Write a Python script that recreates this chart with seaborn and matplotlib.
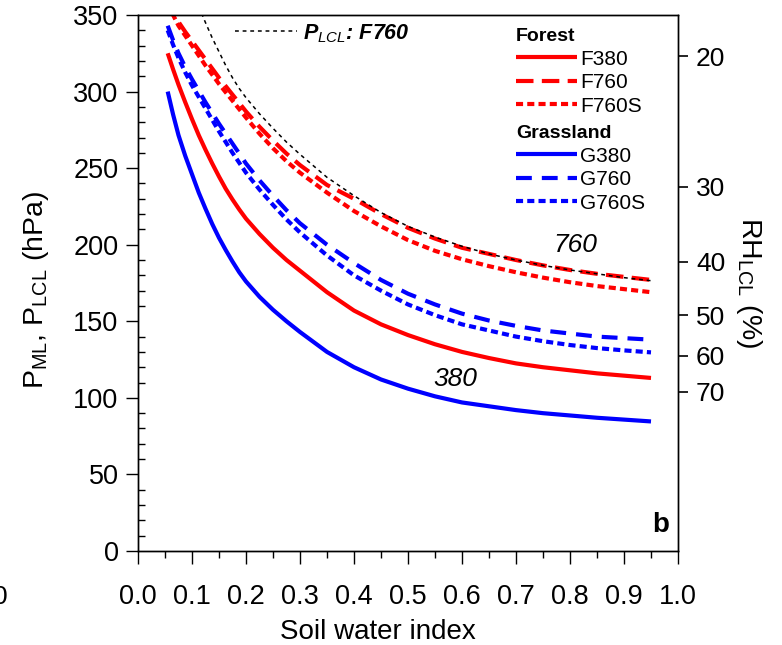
import numpy as np
import pandas as pd
import matplotlib
matplotlib.use("Agg")
import matplotlib.pyplot as plt
from matplotlib.ticker import MultipleLocator, FixedLocator, FixedFormatter
import seaborn as sns

# ---------------- data ----------------
swi = [0.055, 0.065, 0.075, 0.0875, 0.10, 0.1125, 0.125, 0.1375, 0.15, 0.1625,
       0.175, 0.1875, 0.20, 0.225, 0.25, 0.275, 0.30, 0.35, 0.40, 0.45,
       0.50, 0.55, 0.60, 0.65, 0.70, 0.75, 0.80, 0.85, 0.90, 0.95]
F380 = [325, 314.5, 304.5, 293, 282, 271.5, 262, 253, 244.5, 236.5,
        229.5, 223, 217, 207, 198, 190, 183, 169, 157, 148,
        141, 135, 130, 126, 122.5, 120, 118, 116, 114.5, 113]
F760 = [360, 352, 345.5, 339, 333, 327, 321, 315, 309, 303.5,
        298, 292.5, 287, 277, 268, 259.5, 252, 239, 230, 220,
        211, 204, 198, 194, 190, 186.5, 183.5, 181, 179, 177]
F760S = [358, 350, 343, 336.5, 330, 323.5, 317, 311, 305, 299.5,
         294, 288.5, 283, 272.5, 263, 254.5, 247, 234, 222, 212,
         203, 196, 190.5, 186, 182, 178.5, 175.5, 173, 171, 169]
G380 = [300, 285, 271.5, 258, 246, 234, 223.5, 213.5, 204.5, 196.5,
        189, 182, 176, 166, 157.5, 150, 143, 130, 120, 112,
        106, 101, 97, 94.5, 92, 90, 88.5, 87, 85.8, 84.6]
G760 = [343, 333.5, 325, 316, 308, 300.5, 293, 286, 279, 272.5,
        266, 259.5, 253, 242, 232, 222.5, 214, 200, 188, 177,
        168, 161, 155, 150.5, 147, 144, 142, 140, 139, 138]
G760S = [340, 330.5, 322, 312.5, 304, 296.5, 289, 281.5, 274, 267,
         260, 253.5, 247, 236, 226, 216.5, 208, 193, 180, 170,
         161, 154, 148, 144, 140, 137, 134.5, 132.5, 131, 129.7]
PLCL_F760 = [420, 406, 394, 380, 367, 355.5, 345, 335, 326, 317,
             309, 302, 296, 285.5, 276, 267, 259, 244, 232, 221,
             212, 205, 199, 194, 190, 186.5, 183.5, 181, 178.5, 176.5]

# right axis: RH_LCL tick labels and the P_LCL (hPa) they sit at
rh_labels = ["20", "30", "40", "50", "60", "70"]
rh_pos_hpa = [323, 238, 189, 154, 127.5, 104]

x_ticks = [0.0, 0.1, 0.2, 0.3, 0.4, 0.5, 0.6, 0.7, 0.8, 0.9, 1.0]
y_ticks = [0, 50, 100, 150, 200, 250, 300, 350]

df = pd.DataFrame({"swi": swi, "F380": F380, "F760": F760, "F760S": F760S,
                   "G380": G380, "G760": G760, "G760S": G760S,
                   "PLCL": PLCL_F760})

# ---------------- style ----------------
sns.set_theme(style="ticks")
plt.rcParams["font.family"] = ["Liberation Sans", "DejaVu Sans"]
plt.rcParams["mathtext.fontset"] = "custom"
plt.rcParams["mathtext.rm"] = "Liberation Sans"
plt.rcParams["mathtext.it"] = "Liberation Sans:italic"
plt.rcParams["mathtext.bf"] = "Liberation Sans:bold"
plt.rcParams["mathtext.bfit"] = "Liberation Sans:bold:italic"
for k in ["text.color", "axes.labelcolor", "xtick.color", "ytick.color",
          "axes.edgecolor"]:
    plt.rcParams[k] = "black"
plt.rcParams["axes.linewidth"] = 1.0

W, H = 782, 645
fig = plt.figure(figsize=(W / 100, H / 100), dpi=100)
L, R, B, T = 138, 678, 551, 15
ax = fig.add_axes([L / W, (H - B) / H, (R - L) / W, (B - T) / H])

RED = "#ff0000"
BLUE = "#0000ff"
LW = 3.0

series = [
    ("F380", RED, "-"),
    ("F760", RED, (0, (4.2, 2.0))),
    ("F760S", RED, (0, (1.7, 1.0))),
    ("G380", BLUE, "-"),
    ("G760", BLUE, (0, (3.8, 2.4))),
    ("G760S", BLUE, (0, (1.7, 1.0))),
]
handles = {}
for name, col, ls in series:
    sns.lineplot(data=df, x="swi", y=name, ax=ax, color=col, linewidth=LW,
                 linestyle=ls, estimator=None, sort=False)
    handles[name] = ax.get_lines()[-1]

sns.lineplot(data=df, x="swi", y="PLCL", ax=ax, color="black", linewidth=1.1,
             linestyle=(0, (2.5, 2.5)), estimator=None, sort=False)
h_plcl = ax.get_lines()[-1]
for ln in ax.get_lines():
    ln.set_solid_capstyle("butt")
    ln.set_dash_capstyle("butt")
    ln.set_solid_joinstyle("round")

ax.set_xlim(0, 1)
ax.set_ylim(0, 350)
ax.xaxis.set_major_locator(FixedLocator(x_ticks))
ax.set_xticklabels([f"{v:.1f}" for v in x_ticks])
ax.xaxis.set_minor_locator(MultipleLocator(0.05))
ax.yaxis.set_major_locator(FixedLocator(y_ticks))
ax.yaxis.set_minor_locator(MultipleLocator(10))
ax.tick_params(axis="x", which="major", direction="out", length=9, width=1,
               labelsize=19.5, pad=15)
ax.tick_params(axis="x", which="minor", direction="out", length=5, width=1)
ax.tick_params(axis="y", which="major", direction="out", length=9, width=1,
               labelsize=19.5, pad=5)
ax.tick_params(axis="y", which="minor", direction="in", length=5, width=1)
for s in ax.spines.values():
    s.set_visible(True)
    s.set_color("black")
    s.set_linewidth(1.0)

ax.set_xlabel("Soil water index", fontsize=20)
ax.xaxis.set_label_coords((378 - L) / (R - L), -(632 - B) / (B - T))
ax.xaxis.label.set_va("center")
ax.set_ylabel(r"P$_{\mathrm{ML}}$, P$_{\mathrm{LCL}}$ (hPa)", fontsize=20.5)
ax.yaxis.set_label_coords(-(L - 36) / (R - L), (B - 290) / (B - T))
ax.yaxis.label.set_va("center")

# right axis
ax2 = ax.twinx()
ax2.set_ylim(0, 350)
ax2.yaxis.set_major_locator(FixedLocator(rh_pos_hpa))
ax2.yaxis.set_major_formatter(FixedFormatter(rh_labels))
ax2.yaxis.set_minor_locator(FixedLocator([]))
ax2.tick_params(axis="y", which="major", direction="out", length=7, width=1.2,
                labelsize=19, pad=6)
ax2.set_ylabel(r"RH$_{\mathrm{LCL}}$ (%)", fontsize=20.5, rotation=270, labelpad=28)
for s in ax2.spines.values():
    s.set_color("black")

# legends
leg_kw = dict(title_fontproperties={"weight": "bold", "size": 14},
              alignment="left", loc="upper left", frameon=False, fontsize=15,
              handlelength=2.95, handletextpad=0.12, labelspacing=0.22,
              borderpad=0, borderaxespad=0)
leg1 = ax.legend([handles["F380"], handles["F760"], handles["F760S"]],
                 ["F380", "F760", "F760S"], title="Forest",
                 bbox_to_anchor=((516 - L) / (R - L), (B - 28) / (B - T)),
                 **leg_kw)
ax.add_artist(leg1)
leg2 = ax.legend([handles["G380"], handles["G760"], handles["G760S"]],
                 ["G380", "G760", "G760S"], title="Grassland",
                 bbox_to_anchor=((516 - L) / (R - L), (B - 125) / (B - T)),
                 **leg_kw)
ax.add_artist(leg2)
leg3 = ax.legend([h_plcl], [r"$\mathbfit{P}_{\mathit{LCL}}$: F760"],
                 loc="upper left",
                 bbox_to_anchor=((235 - L) / (R - L), (B - 22) / (B - T)),
                 frameon=False, handlelength=2.9, handletextpad=0.25,
                 borderpad=0, borderaxespad=0,
                 prop={"size": 15.5, "weight": "bold", "style": "italic"})

# annotations
ax.text(0.809, 200, "760", fontsize=19, style="italic", ha="center", va="center")
ax.text(0.587, 112, "380", fontsize=19, style="italic", ha="center", va="center")
ax.text(0.968, 17, "b", fontsize=20, weight="bold", ha="center", va="center")

# cut-off glyph from the neighbouring panel at the left edge (as in the reference)
fig.text(-7 / W, (H - 597) / H, "0", fontsize=19, ha="left", va="center")

fig.savefig("out.png", dpi=100)
